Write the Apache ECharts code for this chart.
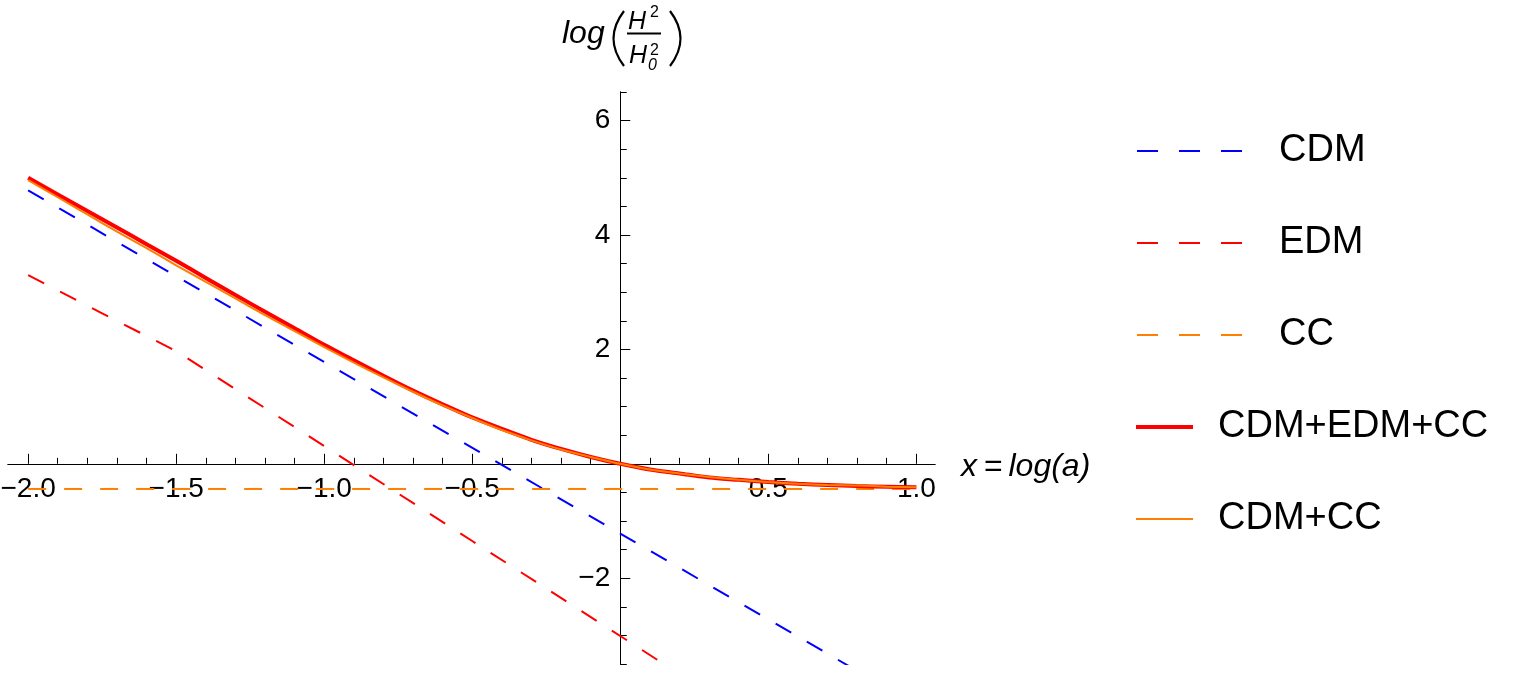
<!DOCTYPE html>
<html>
<head>
<meta charset="utf-8">
<script src="https://cdn.jsdelivr.net/npm/echarts@6/dist/echarts.min.js"></script>
<style>
  html, body { margin: 0; padding: 0; background: #fff; }
  #chart { width: 1517px; height: 673px; }
</style>
</head>
<body>
<div id="chart"></div>
<script>
  // values (x = log(a))
  const cdmX = [-2, 0, 1];
  const cdmY = [4.78, -1.22, -4.22];

  const edmX = [-2, -1.75, -1.5, -1, -0.5, 0, 0.3];
  const edmY = [3.30, 2.63, 1.97, 0.31, -1.35, -3.01, -4.01];

  const ccX = [-2, 1];
  const ccY = [-0.44, -0.44];

  const sumX = [-2, -1.9, -1.8, -1.7, -1.6, -1.5, -1.4, -1.3, -1.2, -1.1, -1,
    -0.9, -0.8, -0.7, -0.6, -0.5, -0.4, -0.3, -0.2, -0.1, 0,
    0.1, 0.2, 0.3, 0.4, 0.5, 0.6, 0.7, 0.8, 0.9, 1];
  const totalY = [5.00, 4.71, 4.42, 4.13, 3.84, 3.55, 3.25, 2.95, 2.66, 2.37, 2.08,
    1.81, 1.54, 1.28, 1.04, 0.81, 0.61, 0.42, 0.26, 0.12, 0.0,
    -0.10, -0.17, -0.24, -0.28, -0.32, -0.35, -0.37, -0.39, -0.40, -0.41];
  const cdmCcY = [4.96, 4.66, 4.36, 4.06, 3.77, 3.47, 3.18, 2.89, 2.60, 2.32, 2.04,
    1.77, 1.51, 1.26, 1.02, 0.80, 0.59, 0.41, 0.25, 0.12, 0.0,
    -0.10, -0.17, -0.23, -0.28, -0.32, -0.35, -0.37, -0.38, -0.40, -0.41];

  const xMajor = [-2, -1.5, -1, -0.5, 0.5, 1];
  const yMajor = [-2, 2, 4, 6];
  const yMinor = [-3.5, -3, -2.5, -1.5, -1, -0.5, 0.5, 1, 1.5, 2.5, 3, 3.5, 4.5, 5, 5.5, 6.5];
  const xMinor = [];
  for (let i = -19; i <= 9; i++) {
    if (i % 5 !== 0) xMinor.push(i / 10);
  }

  const legendNames = ['CDM', 'EDM', 'CC', 'CDM+EDM+CC', 'CDM+CC'];
  const BLUE = '#0000ff';
  const RED = '#ff0000';
  const ORANGE = '#ff8000';
  const FONT = '"Liberation Sans", Arial, sans-serif';

  const pairs = (xs, ys) => xs.map((x, i) => [x, ys[i]]);
  const minus = (s) => String(s).replace('-', '\u2212');

  const xRange = { min: -2.068, max: 1.063 };
  const yRange = { min: -3.5, max: 6.5 };
  const GRID = { left: 8, top: 92, width: 927, height: 572 };

  // axes cross at the origin: shift them from the grid edges to the zero lines
  const xAxisOffset = -GRID.height * (0 - yRange.min) / (yRange.max - yRange.min);
  const yAxisOffset = -GRID.width * (0 - xRange.min) / (xRange.max - xRange.min);

  const baseAxis = (range, pos, offset) => ({
    type: 'value',
    min: range.min,
    max: range.max,
    position: pos,
    offset: offset,
    splitLine: { show: false },
    axisLine: { show: true, onZero: false, lineStyle: { color: '#000', width: 1 } },
  });

  const chart = echarts.init(document.getElementById('chart'));

  const legendRow = (i) => {
    const y = [151, 243, 335, 427, 519][i];
    const dashed = i < 3;
    const color = [BLUE, RED, ORANGE, RED, ORANGE][i];
    return [
      {
        type: 'line',
        shape: dashed ? { x1: 1137, y1: y, x2: 1242, y2: y } : { x1: 1136, y1: y, x2: 1193, y2: y },
        style: { stroke: color, lineWidth: i === 3 ? 4 : 2, lineDash: dashed ? [21, 21] : null },
      },
      {
        type: 'text',
        style: {
          text: legendNames[i], x: dashed ? 1279 : 1218, y: y,
          font: '38px ' + FONT, fill: '#000',
          align: 'left', verticalAlign: 'middle', textAlign: 'left', textVerticalAlign: 'middle',
        },
      },
    ];
  };

  const txt = (text, x, y, size, italic) => ({
    type: 'text',
    style: {
      text, x, y,
      font: (italic ? 'italic ' : '') + size + 'px ' + FONT, fill: '#000',
      align: 'left', verticalAlign: 'middle', textAlign: 'left', textVerticalAlign: 'middle',
    },
  });

  const option = {
    animation: false,
    backgroundColor: '#fff',
    grid: Object.assign({ containLabel: false, outerBoundsMode: 'none' }, GRID),
    xAxis: [
      Object.assign(baseAxis(xRange, 'bottom', xAxisOffset), {
        axisTick: { show: true, inside: true, length: 10, customValues: xMajor, lineStyle: { color: '#000' } },
        axisLabel: {
          customValues: xMajor, margin: 11, color: '#000', fontSize: 28, fontFamily: FONT,
          formatter: (v) => minus(Number(v).toFixed(1)),
        },
      }),
      Object.assign(baseAxis(xRange, 'bottom', xAxisOffset), {
        axisTick: { show: true, inside: true, length: 6, customValues: xMinor, lineStyle: { color: '#000' } },
        axisLabel: { show: false },
      }),
    ],
    yAxis: [
      Object.assign(baseAxis(yRange, 'left', yAxisOffset), {
        axisTick: { show: true, inside: true, length: 10, customValues: yMajor, lineStyle: { color: '#000' } },
        axisLabel: {
          customValues: yMajor, margin: 10, color: '#000', fontSize: 28, fontFamily: FONT,
          formatter: (v) => minus(v),
        },
      }),
      Object.assign(baseAxis(yRange, 'left', yAxisOffset), {
        axisTick: { show: true, inside: true, length: 6.5, customValues: yMinor, lineStyle: { color: '#000' } },
        axisLabel: { show: false },
      }),
    ],
    series: [
      { name: 'CDM', type: 'line', data: pairs(cdmX, cdmY), showSymbol: false,
        lineStyle: { color: BLUE, width: 2, type: [18, 18] } },
      { name: 'EDM', type: 'line', data: pairs(edmX, edmY), showSymbol: false,
        lineStyle: { color: RED, width: 2, type: [18, 18] } },
      { name: 'CC', type: 'line', data: pairs(ccX, ccY), showSymbol: false,
        lineStyle: { color: ORANGE, width: 2, type: [18, 18] } },
      { name: 'CDM+EDM+CC', type: 'line', data: pairs(sumX, totalY), showSymbol: false, smooth: 0.3,
        lineStyle: { color: RED, width: 4 } },
      { name: 'CDM+CC', type: 'line', data: pairs(sumX, cdmCcY), showSymbol: false, smooth: 0.3,
        lineStyle: { color: ORANGE, width: 2 } },
    ],
    graphic: [
      // y axis title: log(H^2 / H0^2)
      txt('log', 562, 34, 32, true),
      { type: 'bezierCurve', shape: { x1: 624, y1: 11, x2: 624, y2: 66, cpx1: 603, cpy1: 38.5 },
        style: { stroke: '#000', lineWidth: 2.2, fill: null } },
      txt('H', 628, 22, 25, true),
      txt('2', 650, 12.5, 16, false),
      { type: 'line', shape: { x1: 627, y1: 33.5, x2: 661, y2: 33.5 }, style: { stroke: '#000', lineWidth: 1.8 } },
      txt('H', 629, 56, 25, true),
      txt('2', 650, 51, 16, false),
      txt('0', 648, 66, 16, true),
      { type: 'bezierCurve', shape: { x1: 670, y1: 11, x2: 670, y2: 66, cpx1: 691, cpy1: 38.5 },
        style: { stroke: '#000', lineWidth: 2.2, fill: null } },
      // x axis title
      txt('x\u2009=\u2009log(a)', 961, 467, 32, true),
    ].concat(...[0, 1, 2, 3, 4].map(legendRow)),
  };

  chart.setOption(option);
  window.addEventListener('resize', () => chart.resize());
</script>
</body>
</html>
